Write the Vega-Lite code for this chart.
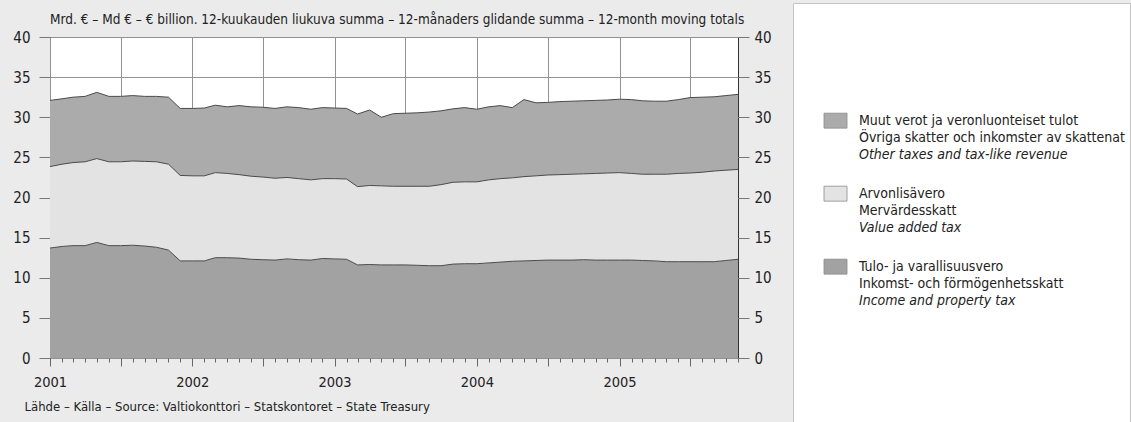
{
  "$schema": "https://vega.github.io/schema/vega-lite/v6.json",
  "background": "#ebebeb",
  "padding": {"left": 12, "top": 0, "right": 0, "bottom": 0},
  "spacing": 20,
  "config": {
    "font": "DejaVu Sans Condensed, DejaVu Sans, sans-serif",
    "view": {"stroke": null}
  },
  "datasets": {
    "monthly": [
      {"date": "2001/01/01", "income": 13.7, "vat": 10.15, "other": 8.25},
      {"date": "2001/02/01", "income": 13.9, "vat": 10.25, "other": 8.15},
      {"date": "2001/03/01", "income": 14.0, "vat": 10.35, "other": 8.15},
      {"date": "2001/04/01", "income": 14.0, "vat": 10.45, "other": 8.15},
      {"date": "2001/05/01", "income": 14.4, "vat": 10.45, "other": 8.25},
      {"date": "2001/06/01", "income": 14.0, "vat": 10.45, "other": 8.15},
      {"date": "2001/07/01", "income": 14.0, "vat": 10.45, "other": 8.15},
      {"date": "2001/08/01", "income": 14.05, "vat": 10.5, "other": 8.15},
      {"date": "2001/09/01", "income": 13.95, "vat": 10.55, "other": 8.1},
      {"date": "2001/10/01", "income": 13.8, "vat": 10.65, "other": 8.15},
      {"date": "2001/11/01", "income": 13.45, "vat": 10.7, "other": 8.35},
      {"date": "2001/12/01", "income": 12.1, "vat": 10.65, "other": 8.35},
      {"date": "2002/01/01", "income": 12.1, "vat": 10.6, "other": 8.4},
      {"date": "2002/02/01", "income": 12.1, "vat": 10.6, "other": 8.45},
      {"date": "2002/03/01", "income": 12.5, "vat": 10.6, "other": 8.4},
      {"date": "2002/04/01", "income": 12.5, "vat": 10.5, "other": 8.3},
      {"date": "2002/05/01", "income": 12.45, "vat": 10.4, "other": 8.6},
      {"date": "2002/06/01", "income": 12.3, "vat": 10.35, "other": 8.65},
      {"date": "2002/07/01", "income": 12.25, "vat": 10.3, "other": 8.7},
      {"date": "2002/08/01", "income": 12.2, "vat": 10.2, "other": 8.7},
      {"date": "2002/09/01", "income": 12.35, "vat": 10.15, "other": 8.8},
      {"date": "2002/10/01", "income": 12.25, "vat": 10.1, "other": 8.85},
      {"date": "2002/11/01", "income": 12.2, "vat": 10.0, "other": 8.8},
      {"date": "2002/12/01", "income": 12.4, "vat": 9.95, "other": 8.85},
      {"date": "2003/01/01", "income": 12.35, "vat": 10.0, "other": 8.8},
      {"date": "2003/02/01", "income": 12.3, "vat": 10.0, "other": 8.8},
      {"date": "2003/03/01", "income": 11.6, "vat": 9.75, "other": 9.05},
      {"date": "2003/04/01", "income": 11.65, "vat": 9.85, "other": 9.4},
      {"date": "2003/05/01", "income": 11.6, "vat": 9.85, "other": 8.55},
      {"date": "2003/06/01", "income": 11.6, "vat": 9.8, "other": 9.05},
      {"date": "2003/07/01", "income": 11.6, "vat": 9.8, "other": 9.1},
      {"date": "2003/08/01", "income": 11.55, "vat": 9.85, "other": 9.15},
      {"date": "2003/09/01", "income": 11.5, "vat": 9.9, "other": 9.25},
      {"date": "2003/10/01", "income": 11.5, "vat": 10.1, "other": 9.2},
      {"date": "2003/11/01", "income": 11.7, "vat": 10.2, "other": 9.15},
      {"date": "2003/12/01", "income": 11.75, "vat": 10.2, "other": 9.25},
      {"date": "2004/01/01", "income": 11.75, "vat": 10.2, "other": 9.05},
      {"date": "2004/02/01", "income": 11.85, "vat": 10.35, "other": 9.1},
      {"date": "2004/03/01", "income": 11.95, "vat": 10.4, "other": 9.1},
      {"date": "2004/04/01", "income": 12.05, "vat": 10.4, "other": 8.75},
      {"date": "2004/05/01", "income": 12.1, "vat": 10.5, "other": 9.6},
      {"date": "2004/06/01", "income": 12.15, "vat": 10.55, "other": 9.1},
      {"date": "2004/07/01", "income": 12.2, "vat": 10.6, "other": 9.05},
      {"date": "2004/08/01", "income": 12.2, "vat": 10.65, "other": 9.1},
      {"date": "2004/09/01", "income": 12.2, "vat": 10.7, "other": 9.1},
      {"date": "2004/10/01", "income": 12.25, "vat": 10.7, "other": 9.1},
      {"date": "2004/11/01", "income": 12.2, "vat": 10.8, "other": 9.1},
      {"date": "2004/12/01", "income": 12.2, "vat": 10.85, "other": 9.1},
      {"date": "2005/01/01", "income": 12.2, "vat": 10.9, "other": 9.15},
      {"date": "2005/02/01", "income": 12.2, "vat": 10.8, "other": 9.2},
      {"date": "2005/03/01", "income": 12.15, "vat": 10.75, "other": 9.15},
      {"date": "2005/04/01", "income": 12.1, "vat": 10.8, "other": 9.1},
      {"date": "2005/05/01", "income": 12.0, "vat": 10.9, "other": 9.1},
      {"date": "2005/06/01", "income": 12.0, "vat": 11.0, "other": 9.2},
      {"date": "2005/07/01", "income": 12.0, "vat": 11.05, "other": 9.4},
      {"date": "2005/08/01", "income": 12.0, "vat": 11.15, "other": 9.35},
      {"date": "2005/09/01", "income": 12.0, "vat": 11.3, "other": 9.25},
      {"date": "2005/10/01", "income": 12.15, "vat": 11.25, "other": 9.3},
      {"date": "2005/11/01", "income": 12.3, "vat": 11.2, "other": 9.35}
    ],
    "legend": [
      {"series": "other", "line": 1, "text": "Muut verot ja veronluonteiset tulot"},
      {"series": "other", "line": 2, "text": "Övriga skatter och inkomster av skattenatur"},
      {"series": "other", "line": 3, "text": "Other taxes and tax-like revenue"},
      {"series": "vat", "line": 1, "text": "Arvonlisävero"},
      {"series": "vat", "line": 2, "text": "Mervärdesskatt"},
      {"series": "vat", "line": 3, "text": "Value added tax"},
      {"series": "income", "line": 1, "text": "Tulo- ja varallisuusvero"},
      {"series": "income", "line": 2, "text": "Inkomst- och förmögenhetsskatt"},
      {"series": "income", "line": 3, "text": "Income and property tax"}
    ],
    "order": [
      {"series": "income", "rank": 1},
      {"series": "vat", "rank": 2},
      {"series": "other", "rank": 3}
    ]
  },
  "hconcat": [
    {
      "spacing": 2,
      "vconcat": [
        {
          "width": 688,
          "height": 1,
          "title": {
            "text": "Mrd. € – Md € – € billion. 12-kuukauden liukuva summa – 12-månaders glidande summa – 12-month moving totals",
            "orient": "bottom",
            "anchor": "start",
            "frame": "group",
            "fontSize": 13.5,
            "fontWeight": "normal",
            "color": "#222222",
            "offset": 7
          },
          "data": {"values": [{"k": 1}]},
          "mark": {"type": "point", "opacity": 0},
          "encoding": {}
        },
        {
          "width": 688,
          "height": 321,
          "view": {"fill": "white", "stroke": "#333333", "strokeWidth": 1},
          "data": {"name": "monthly"},
          "transform": [
            {"fold": ["income", "vat", "other"], "as": ["series", "value"]},
            {"lookup": "series", "from": {"data": {"name": "order"}, "key": "series", "fields": ["rank"]}},
            {"stack": "value", "groupby": ["date"], "sort": [{"field": "rank", "order": "ascending"}], "as": ["v0", "v1"]}
          ],
          "encoding": {
            "x": {
              "field": "date",
              "type": "temporal",
              "scale": {"domain": [{"year": 2001, "month": 1, "date": 1}, {"year": 2005, "month": 11, "date": 1}]},
              "axis": {
                "title": "Lähde – Källa – Source: Valtiokonttori – Statskontoret – State Treasury",
                "titleAnchor": "start",
                "titleAlign": "left",
                "titleX": -26,
                "titleFontSize": 13,
                "titleFontWeight": "normal",
                "titleColor": "#222222",
                "titlePadding": 12,
                "tickCount": {"interval": "month", "step": 1},
                "tickSize": {"condition": {"test": "month(datum.value) % 6 == 0", "value": 8}, "value": 4},
                "tickColor": "#666666",
                "domain": false,
                "grid": true,
                "gridColor": "#929292",
                "gridOpacity": {"condition": {"test": "month(datum.value) % 6 == 0", "value": 1}, "value": 0},
                "labelExpr": "month(datum.value) == 0 ? timeFormat(datum.value, '%Y') : ''",
                "labelFontSize": 14.5,
                "labelColor": "#222222",
                "labelPadding": 9,
                "labelFlush": false,
                "labelOverlap": false
              }
            }
          },
          "layer": [
            {
              "mark": {"type": "area", "opacity": 1},
              "encoding": {
                "y": {
                  "field": "v1",
                  "type": "quantitative",
                  "scale": {"domain": [0, 40]},
                  "axis": {
                    "orient": "left",
                    "title": null,
                    "values": [0, 5, 10, 15, 20, 25, 30, 35, 40],
                    "tickSize": 11,
                    "tickColor": "#777777",
                    "labelPadding": 9,
                    "labelFontSize": 15,
                    "labelColor": "#222222",
                    "domain": false,
                    "grid": true,
                    "gridColor": "#929292"
                  }
                },
                "y2": {"field": "v0"},
                "color": {
                  "field": "series",
                  "type": "nominal",
                  "scale": {"domain": ["other", "vat", "income"], "range": ["#ababab", "#e3e3e3", "#a2a2a2"]},
                  "legend": null
                }
              }
            },
            {
              "mark": {"type": "line", "color": "#4a4a4a", "strokeWidth": 1},
              "encoding": {
                "y": {
                  "field": "v1",
                  "type": "quantitative",
                  "axis": {
                    "orient": "right",
                    "title": null,
                    "values": [0, 5, 10, 15, 20, 25, 30, 35, 40],
                    "tickSize": 11,
                    "tickColor": "#777777",
                    "labelPadding": 5,
                    "labelFontSize": 15,
                    "labelColor": "#222222",
                    "domain": false,
                    "grid": false
                  }
                },
                "detail": {"field": "series", "type": "nominal"}
              }
            }
          ],
          "resolve": {"axis": {"y": "independent"}}
        }
      ]
    },
    {
      "width": 337,
      "height": 422,
      "view": {"fill": "white", "stroke": "#c4c4c4", "strokeWidth": 1},
      "data": {"name": "legend"},
      "encoding": {
        "y": {
          "field": "series",
          "type": "nominal",
          "scale": {"type": "band", "domain": ["other", "vat", "income"], "paddingInner": 0, "paddingOuter": 0, "range": [109, 328]},
          "axis": null
        },
        "yOffset": {
          "field": "line",
          "type": "ordinal",
          "scale": {"type": "band", "domain": [1, 2, 3], "paddingInner": 0, "paddingOuter": 0, "range": [0, 52]}
        },
        "x": {
          "datum": "label",
          "type": "nominal",
          "scale": {"type": "point", "domain": ["swatch", "label"], "padding": 0, "range": [42.5, 66]},
          "axis": null
        }
      },
      "layer": [
        {
          "transform": [{"filter": "datum.line == 1"}],
          "mark": {"type": "point", "shape": "M-1,-0.65H1V0.65H-1Z", "filled": true, "size": 529, "opacity": 1, "stroke": "#8a8a8a", "strokeWidth": 0.8},
          "encoding": {
            "x": {"datum": "swatch", "type": "nominal"},
            "color": {"field": "series", "type": "nominal", "legend": null}
          }
        },
        {
          "transform": [{"filter": "datum.line != 3"}],
          "mark": {"type": "text", "align": "left", "baseline": "middle", "fontSize": 14, "color": "#222222", "limit": 272, "ellipsis": "\u200b"},
          "encoding": {
            "text": {"field": "text"}
          }
        },
        {
          "transform": [{"filter": "datum.line == 3"}],
          "mark": {"type": "text", "align": "left", "baseline": "middle", "fontSize": 14, "fontStyle": "italic", "color": "#222222", "limit": 272, "ellipsis": "\u200b"},
          "encoding": {
            "text": {"field": "text"}
          }
        }
      ]
    }
  ]
}
